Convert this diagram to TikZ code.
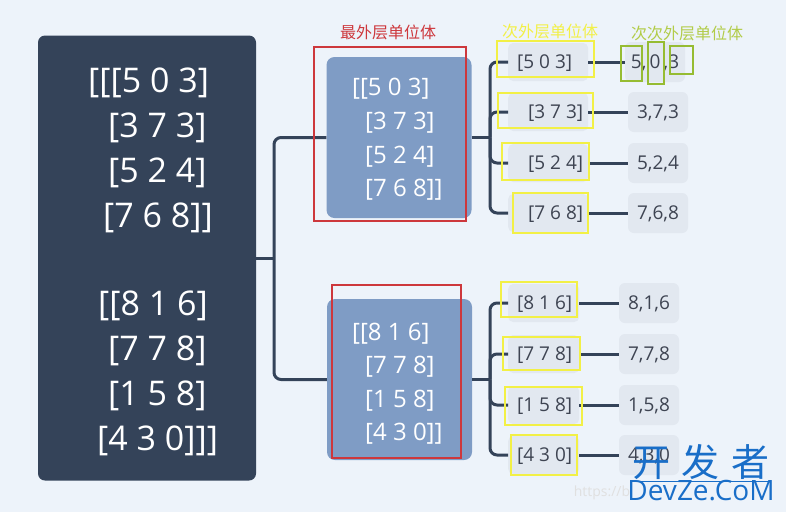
\documentclass[tikz,border=0pt]{standalone}
\usepackage{fontspec}
\setmainfont{Open Sans}
\newfontfamily\cjk{Noto Sans CJK SC}
\usetikzlibrary{positioning}
\definecolor{bgc}{RGB}{237,243,250}
\definecolor{navy}{RGB}{52,67,89}
\definecolor{steel}{RGB}{127,156,197}
\definecolor{chipc}{RGB}{226,232,240}
\definecolor{ink}{RGB}{62,68,82}
\definecolor{redc}{RGB}{205,55,60}
\definecolor{yelc}{RGB}{242,240,70}
\definecolor{grnc}{RGB}{150,188,50}
\definecolor{grntxt}{RGB}{178,204,72}
\definecolor{wmblue}{RGB}{25,110,200}

\begin{document}
\begin{tikzpicture}[x=1pt, y=-1pt,
    link/.style={draw=navy, line width=3pt, rounded corners=7pt},
    roottxt/.style={text=white, inner sep=0pt, anchor=base west, font=\fontsize{34}{40}\selectfont},
    midbox/.style={fill=steel, rounded corners=8pt, minimum width=145pt, minimum height=161pt},
    midtxt/.style={text=white, inner sep=0pt, anchor=base west, font=\fontsize{24}{28}\selectfont},
    chip/.style={fill=chipc, rounded corners=5pt, inner xsep=0pt, minimum height=38pt, anchor=west,
      text=ink, text height=13.6pt, text depth=0pt, font=\fontsize{19}{22}\selectfont},
    leaf/.style={fill=chipc, rounded corners=6pt, inner xsep=0pt, minimum width=60pt, minimum height=40pt,
      text=ink, text height=13.6pt, text depth=0pt, font=\fontsize{19}{22}\selectfont},
    note/.style={inner sep=0pt, font=\cjk\fontsize{16}{18}\selectfont},
    frame/.style={line width=1.6pt}]
    \fill[bgc] (0,0) rectangle (786,512);
    \useasboundingbox (0,0) rectangle (786,512);

    \node[fill=navy, rounded corners=7pt, minimum width=218pt, minimum height=445pt] (root) at (147,258) {};
    \foreach \i/\x/\y/\lbl in {1/88/92/{[[[5 0 3]}, 2/108/137/{[3 7 3]}, 3/108/182/{[5 2 4]}, 4/103/227/{[7 6 8]]},
        5/98/315/{[[8 1 6]}, 6/108/360/{[7 7 8]}, 7/108/405/{[1 5 8]}, 8/97/450/{[4 3 0]]]}} {
      \node[roottxt] (r\i) at (\x,\y) {\lbl};
    }

    \node[midbox] (mid1) at (399,137.5) {};
    \node[midbox] (mid2) at (399.5,379.5) {};
    \foreach \i/\x/\y/\lbl in {1/352/95/{[[5 0 3]}, 2/365/129/{[3 7 3]}, 3/365/163/{[5 2 4]}, 4/365/196/{[7 6 8]]},
        5/352/340/{[[8 1 6]}, 6/365/373/{[7 7 8]}, 7/365/407/{[1 5 8]}, 8/365/440/{[4 3 0]]}} {
      \node[midtxt] (m\i) at (\x,\y) {\lbl};
    }

    \foreach \i/\y/\p/\q/\lbl in {1/62/9/16/{[5 0 3]}, 2/112/20/5/{[3 7 3]}, 3/163/20/5/{[5 2 4]}, 4/213/20/5/{[7 6 8]},
        5/303/9/7/{[8 1 6]}, 6/354/9/7/{[7 7 8]}, 7/405/9/7/{[1 5 8]}, 8/455/9/7/{[4 3 0]}} {
      \node[chip] (c\i) at (508,\y) {\hspace*{\p pt}\lbl\hspace*{\q pt}};
    }
    \foreach \i/\x/\y/\lbl in {1/655/62/{5,\,0\,,3}, 2/658/112/{3,7,3}, 3/658/163/{5,2,4}, 4/658/213/{7,6,8},
        5/649/303/{8,1,6}, 6/649/354/{7,7,8}, 7/649/405/{1,5,8}, 8/649/455/{4,3,0}} {
      \node[leaf] (l\i) at (\x,\y) {\lbl};
      \draw[link] (c\i.east) -- (l\i.west);
    }

    \coordinate (fk0) at (274,258);
    \coordinate (fk1) at (490,137.5);
    \coordinate (fk2) at (490,379.5);
    \draw[link] (root.east) -- (fk0);
    \draw[link] (mid1.west) -| (fk0) |- (mid2.west);
    \draw[link] (mid1.east) -- (fk1);
    \draw[link] (mid2.east) -- (fk2);
    \foreach \i in {1,...,4} {
      \draw[link] (c\i.west) -| (fk1);
    }
    \foreach \i in {5,...,8} {
      \draw[link] (c\i.west) -| (fk2);
    }

    \draw[frame, redc] (314,47) rectangle (466,221);
    \draw[frame, redc] (332,285) rectangle (461,458);
    \foreach \a/\b/\c/\d in {497/41/594/77, 498/93/593/128, 502/143/589/180, 513/193/588/233,
        501/282/577/317, 503/337/580/370, 505/387/582/425, 511/435/577/475} {
      \draw[frame, yelc] (\a,\b) rectangle (\c,\d);
    }
    \foreach \a/\b/\c/\d in {621/46/642/81, 648/42/664/84, 670/46/693/74} {
      \draw[frame, grnc] (\a,\b) rectangle (\c,\d);
    }

    \node[note, text=redc] (t1) at (388,32) {最外层单位体};
    \node[note, text=yelc] (t2) at (550,31) {次外层单位体};
    \node[note, text=grntxt] (t3) at (687,33) {次次外层单位体};

    \node[inner sep=0pt, text=black!12, font=\fontsize{14}{16}\selectfont] (wm0) at (602,493) {https://b};
    \node[inner sep=0pt, text=wmblue, font=\cjk\fontsize{38}{40}\selectfont] (wm1) at (701,462) {开\hspace{12pt}发\hspace{12pt}者};
    \draw[wmblue, line width=0.8pt] ([yshift=-2pt]wm1.south west) -- ([yshift=-2pt]wm1.south east);
    \node[inner sep=0pt, text=wmblue, font=\fontsize{28}{30}\selectfont] (wm2) at (701,491) {DevZe.CoM};
  \end{tikzpicture}
\end{document}
